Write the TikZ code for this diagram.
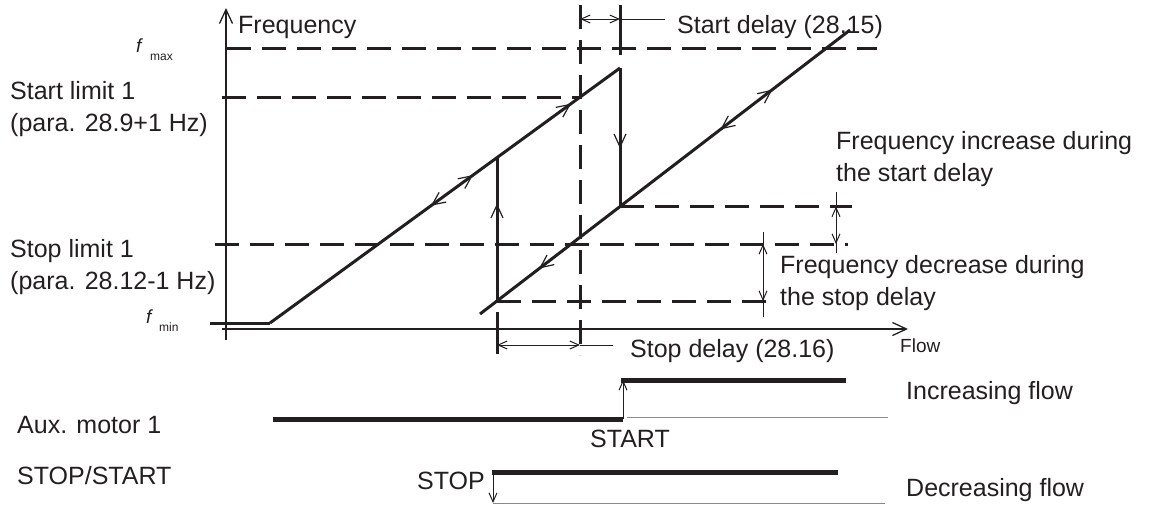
\documentclass[tikz,border=0pt]{standalone}
\usepackage{fontspec}
\setmainfont{Liberation Sans}
\usetikzlibrary{arrows.meta,decorations.markings,calc}
\definecolor{ink}{HTML}{231F20}
\definecolor{lightline}{HTML}{8A8A8A}
\begin{document}
\begin{tikzpicture}[x=1pt,y=-1pt,
  every node/.style={inner sep=0pt, text=ink},
  lbl/.style={font=\fontsize{25}{32}\selectfont, anchor=base west},
  smlbl/.style={font=\fontsize{19}{22}\selectfont, anchor=base west},
  fsym/.style={font=\fontsize{19}{22}\selectfont\itshape, anchor=base west},
  fsub/.style={font=\fontsize{12}{14}\selectfont, anchor=base west},
  thk/.style={line width=3pt, draw=ink},
  dsh/.style={line width=3pt, draw=ink, dash pattern=on 24pt off 11pt},
  axisline/.style={line width=1.3pt, draw=ink},
  dimline/.style={line width=1pt, draw=ink},
  timeline/.style={line width=5pt, draw=ink},
  baseline/.style={line width=1pt, draw=lightline},
  barb/.tip={Straight Barb[length=9pt,width=8pt,line width=1pt]},
  axtip/.tip={Straight Barb[length=14pt,width=13pt,line width=1.3pt]},
  rb/.tip={Straight Barb[length=13pt,width=12pt,line width=1.2pt]},
]
\useasboundingbox (0,0) rectangle (1161,504);

% key points
\coordinate (r1a) at (270,323);
\coordinate (r1b) at (620,68);
\coordinate (r2a) at (480,314);
\coordinate (r2b) at (850,30);
\coordinate (r1s) at (580,97.1);
\coordinate (r1v) at (497,157.6);
\coordinate (r2d) at (620,206.5);
\coordinate (r2v) at (497,301);

% axes
\draw[axisline, -axtip] (226,340) -- (226,8);
\draw[axisline, -axtip] (222,329) -- (908,329);

% dashed levels
\draw[dsh] (227,48) -- (877,48);
\draw[dsh] (222,97.1) -- (r1s);
\draw[dsh] (215,244) -- (848,244);
\draw[dsh] (r2d) -- (852,206.5);
\draw[dsh] (r2v) -- (768,301);
\draw[dsh] (580,5) -- (580,355);

% curves
\draw[thk] (210,323) -- (r1a);
\draw[thk, postaction={decorate}, decoration={markings,
   mark=at position 0.46 with {\arrowreversed{rb}},
   mark=at position 0.58 with {\arrow{rb}},
   mark=at position 0.86 with {\arrow{rb}}}] (r1a) -- (r1b);
\draw[thk, postaction={decorate}, decoration={markings,
   mark=at position 0.58 with {\arrow{rb}}}] (r1b) -- (r2d);
\draw[thk, postaction={decorate}, decoration={markings,
   mark=at position 0.68 with {\arrow{rb}}}] (r2v) -- (r1v);
\draw[thk, postaction={decorate}, decoration={markings,
   mark=at position 0.16 with {\arrowreversed{rb}},
   mark=at position 0.65 with {\arrowreversed{rb}},
   mark=at position 0.79 with {\arrow{rb}}}] (r2a) -- (r2b);

% delay ticks and dimensions
\draw[thk] (620,5) -- (620,55);
\draw[thk] (497,312) -- (497,354);
\draw[dimline] (620,19) -- (665,19);
\draw[dimline, barb-barb] (580,19) -- (620,19);
\draw[dimline] (580,345) -- (613,345);
\draw[dimline, barb-barb] (497,345) -- (580,345);
\draw[dimline] (836,192) -- (836,253);
\draw[dimline, barb-barb] (836,206.5) -- (836,244);
\draw[dimline] (763,232) -- (763,317);
\draw[dimline, barb-barb] (763,244) -- (763,301);

% timing
\draw[timeline] (273,419) -- (623,419);
\draw[dimline, -barb] (623,419) -- (623,380);
\draw[timeline] (621,380) -- (846,380);
\draw[baseline] (627,417) -- (888,417);
\draw[timeline] (492,472) -- (838,472);
\draw[dimline, -barb] (493,470) -- (493,503);
\draw[baseline] (493,503) -- (885,503);

% labels
\node[lbl] (tfreq) at (238,33) {Frequency};
\node[fsym] (fmax) at (136,52) {f};
\node[fsub] (fmaxs) at (150,60) {max};
\node[fsym] (fmin) at (146,323) {f};
\node[fsub] (fmins) at (159,331) {min};
\node[lbl] (sl1) at (10,99) {Start limit 1};
\node[lbl] (sl2) at (10,131) {(para. 28.9+1 Hz)};
\node[lbl] (pl1) at (10,257) {Stop limit 1};
\node[lbl] (pl2) at (10,289) {(para. 28.12-1 Hz)};
\node[lbl] (sd) at (677,33) {Start delay (28,15)};
\node[lbl] (fi1) at (836,149) {Frequency increase during};
\node[lbl] (fi2) at (836,181) {the start delay};
\node[lbl] (fd1) at (780,273) {Frequency decrease during};
\node[lbl] (fd2) at (780,305) {the stop delay};
\node[lbl] (pd) at (630,357) {Stop delay (28.16)};
\node[smlbl] (flow) at (900,352) {Flow};
\node[lbl] (aux) at (17,433) {Aux. motor 1};
\node[lbl] (ss) at (17,484) {STOP/START};
\node[lbl, anchor=base] (start) at (630,447) {START};
\node[lbl, anchor=base east] (stop) at (485,489) {STOP};
\node[lbl] (inc) at (906,399) {Increasing flow};
\node[lbl] (dec) at (906,496) {Decreasing flow};
\end{tikzpicture}
\end{document}
